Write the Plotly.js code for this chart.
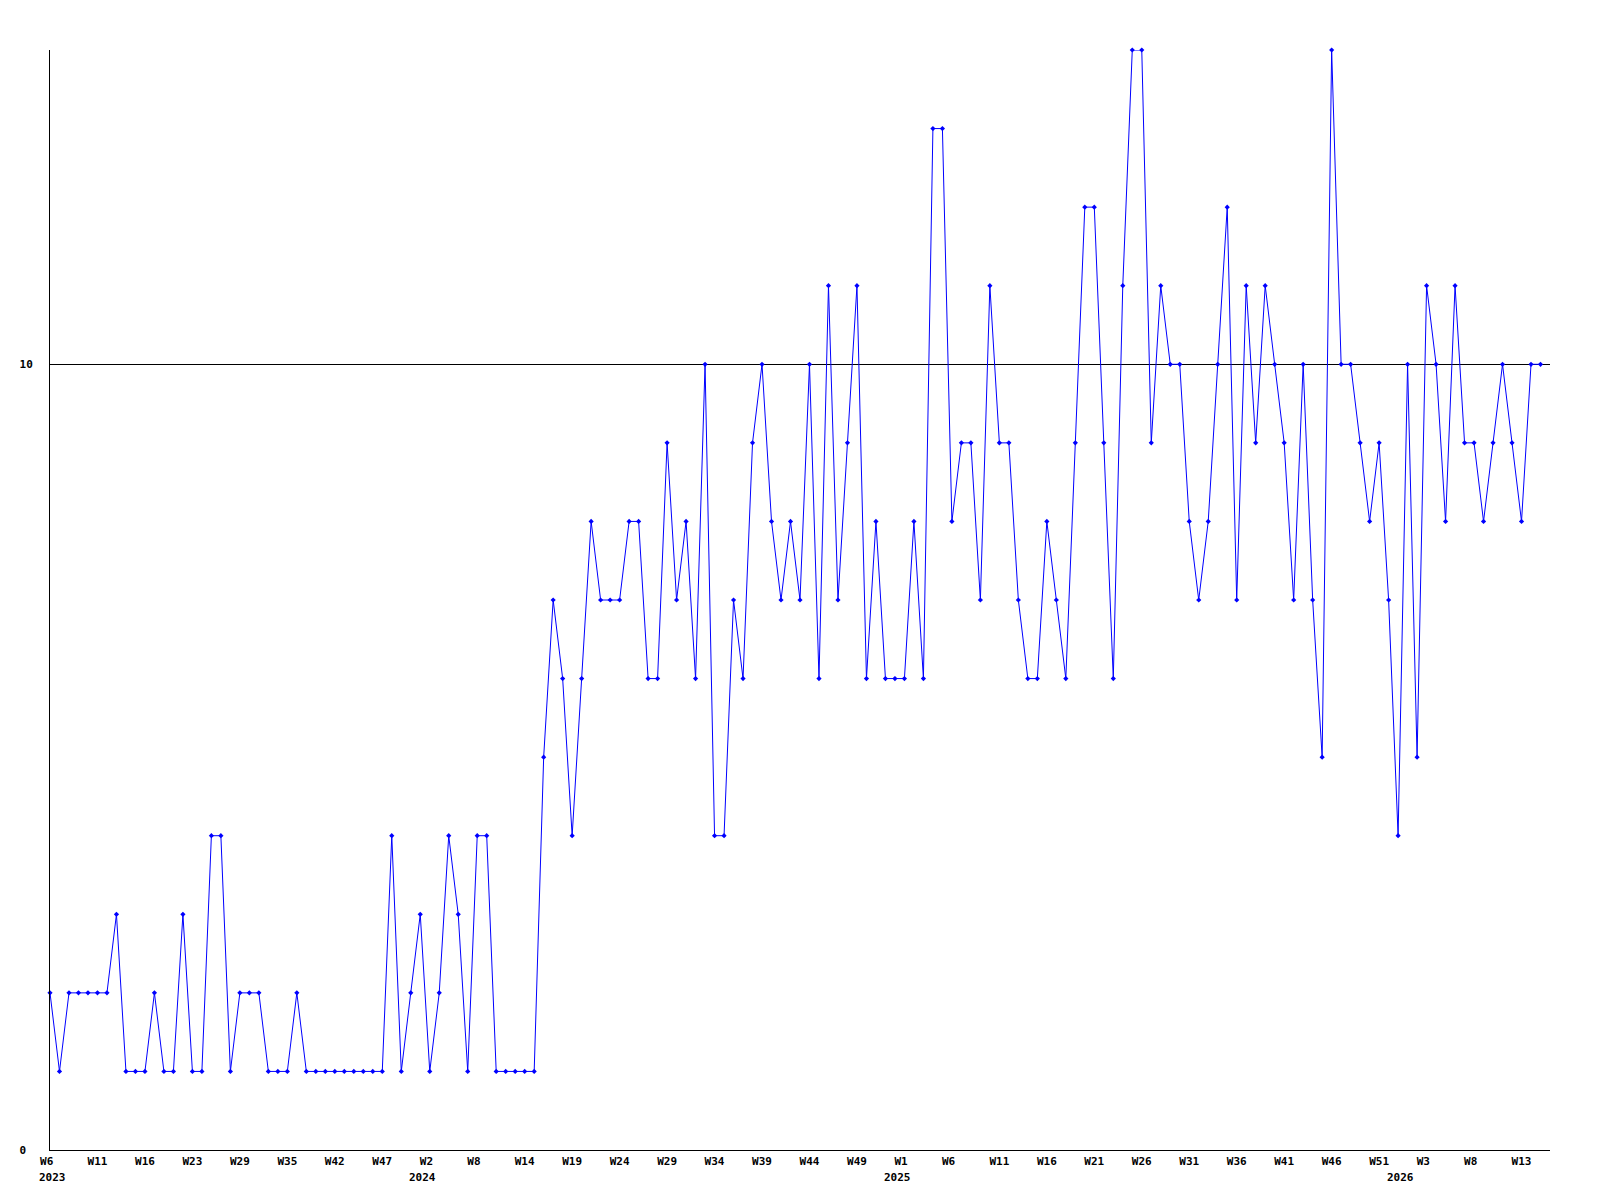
<!DOCTYPE html>
<html>
<head>
<meta charset="utf-8">
<script src="https://cdn.plot.ly/plotly-3.0.1.min.js"></script>
<style>html,body{margin:0;padding:0;background:#fff;}#chart{width:1600px;height:1200px;}</style>
</head>
<body>
<div id="chart"></div>
<script>
// Weekly values, one per point (2023 W6 ... 2026 W15)
const values = [
  2,1,2,2,2,2,2,3,1,1,1,2,1,1,3,1,1,4,
  4,1,2,2,2,1,1,1,2,1,1,1,1,1,1,1,1,1,
  4,1,2,3,1,2,4,3,1,4,4,1,1,1,1,1,
  5,7,6,4,6,8,7,7,7,8,8,6,6,9,7,8,6,10,4,4,7,6,9,10,8,7,8,7,10,6,
  11,7,9,11,6,8,6,6,6,8,6,13,13,8,9,9,7,
  11,9,9,7,6,6,8,7,6,9,12,12,9,6,11,14,14,9,11,10,10,8,7,8,10,12,7,11,9,11,
  10,9,7,10,7,5,14,10,10,9,8,9,7,4,10,5,11,10,8,11,9,9,8,9,10,9,8,10,10
];

// X tick labels (every fifth point) and their point positions
const tickPositions = [0,5,10,15,20,25,30,35,40,45,50,55,60,65,70,75,80,85,90,95,100,105,110,115,120,125,130,135,140,145,150,155];
const weekLabels = ["W6","W11","W16","W23","W29","W35","W42","W47","W2","W8","W14","W19","W24","W29","W34","W39","W44","W49","W1","W6","W11","W16","W21","W26","W31","W36","W41","W46","W51","W3","W8","W13"];

// Year labels and the point where each year starts
const years = ["2023", "2024", "2025", "2026"];
const yearStart = [0, 39, 89, 142];

// Y ticks
const yTickVals = [0, 10];
const yTickText = ["0\u00a0", "10"];

// labels are drawn left-aligned as 3-character cells
const tickText = weekLabels.map(w => w.length < 3 ? w + "\u00a0" : w);

const font = {family: "DejaVu Sans Mono, monospace", size: 11, color: "#000", weight: "bold"};

const trace = {
  y: values,
  type: "scatter",
  mode: "lines+markers",
  line: {color: "#0000ff", width: 1},
  marker: {color: "#0000ff", symbol: "diamond", size: 4},
  cliponaxis: false,
  hoverinfo: "y"
};

const annotations = years.map((yr, i) => ({
  text: yr,
  x: yearStart[i],
  xref: "x",
  y: 0,
  yref: "paper",
  xanchor: "left",
  yanchor: "top",
  xshift: -13,
  yshift: -19,
  showarrow: false,
  font: font
}));

const layout = {
  width: 1600,
  height: 1200,
  margin: {l: 50, r: 50, t: 50, b: 50},
  paper_bgcolor: "#fff",
  plot_bgcolor: "#fff",
  showlegend: false,
  font: font,
  annotations: annotations,
  xaxis: {
    range: [0, 158],
    tickmode: "array",
    tickvals: tickPositions,
    ticktext: tickText,
    showgrid: false,
    zeroline: false,
    showline: true,
    linecolor: "#000",
    linewidth: 1,
    ticks: "",
    tickangle: 0,
    tickfont: font,
    ticklabelstandoff: 1
  },
  yaxis: {
    range: [0, 14],
    tickmode: "array",
    tickvals: yTickVals,
    ticktext: yTickText,
    showgrid: true,
    gridcolor: "#000",
    gridwidth: 1,
    zeroline: false,
    showline: true,
    linecolor: "#000",
    linewidth: 1,
    ticks: "",
    tickfont: font,
    ticklabelstandoff: 14
  }
};

Plotly.newPlot("chart", [trace], layout, {displayModeBar: false, staticPlot: true});
</script>
</body>
</html>
